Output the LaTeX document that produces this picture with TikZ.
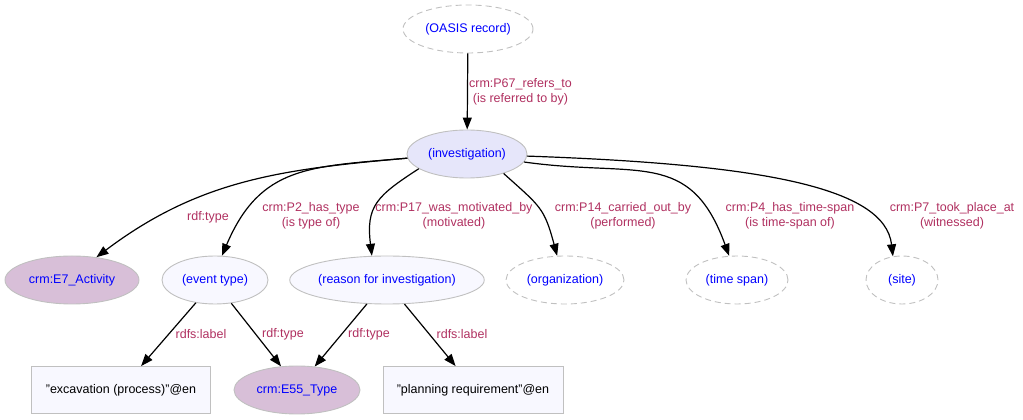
\documentclass[tikz,border=0pt]{standalone}
\usepackage{fontspec}
\setmainfont{Liberation Sans}
\usetikzlibrary{arrows.meta,shapes.geometric}

\definecolor{lblred}{HTML}{B03060}
\definecolor{bordgray}{HTML}{C0C0C0}
\definecolor{lavender}{HTML}{E6E6FA}
\definecolor{ghost}{HTML}{F8F8FF}
\definecolor{thistle}{HTML}{D8BFD8}

\begin{document}
\begin{tikzpicture}[x=1pt,y=1pt,->,>={Triangle[length=12pt,width=9pt]},line width=1.2pt,
    font=\fontsize{12.5}{15}\selectfont,
    main node/.style={ellipse,draw=bordgray,line width=0.9pt,inner sep=0pt,minimum height=48pt,text=blue},
    open node/.style={main node,dash pattern=on 6pt off 4pt},
    class node/.style={main node,fill=thistle},
    lit node/.style={rectangle,draw=bordgray,line width=0.9pt,fill=ghost,minimum width=179pt,minimum height=47pt,inner sep=0pt},
    lbl/.style={text=lblred,align=center,inner sep=1pt}]

    \useasboundingbox (0,0) rectangle (1023,420);

    % nodes
    \node[open node, minimum width=130pt] (oasis) at (468,391) {(OASIS record)};
    \node[main node, fill=lavender, minimum width=120pt] (inv) at (467,266) {(investigation)};

    \node[class node, minimum width=134pt] (e7) at (72,140) {crm:E7\_Activity};
    \node[main node, fill=ghost, minimum width=106pt] (evt) at (215,140) {(event type)};
    \node[main node, fill=ghost, minimum width=192pt] (reason) at (387,140) {(reason for investigation)};
    \node[open node, minimum width=118pt] (org) at (565,140) {(organization)};
    \node[open node, minimum width=102pt] (tspan) at (737,140) {(time span)};
    \node[open node, minimum width=72pt] (site) at (902,140) {(site)};

    \node[lit node] (exc) at (121,30) {"excavation (process)"@en};
    \node[class node, minimum width=126pt] (e55) at (297,30) {crm:E55\_Type};
    \node[lit node, minimum width=180pt] (plan) at (473,30) {"planning requirement"@en};

    % edges
    \draw (oasis) -- node[lbl,right] {crm:P67\_refers\_to\\(is referred to by)} (inv);

    \draw (inv.184) to[out=185,in=37] (e7.43);
    \draw (inv.184) to[out=185,in=67,looseness=1.2] (evt.74);
    \draw (inv.197) to[out=213,in=97,looseness=1.3] (reason.122);
    \draw (inv.332) to[out=318,in=105,looseness=1.3] (org.108);
    \draw (inv.352) to[out=-8,in=110,looseness=1.3] (tspan.108);
    \draw (inv.358) .. controls +(230,-8) and +(-8,70) .. (site.111);

    \draw (evt.230) -- (exc.50);
    \draw (evt.305) -- (e55.124);
    \draw (reason.230) -- (e55.53);
    \draw (reason.306) -- (plan.126);

    % edge labels
    \node[lbl] (l1) at (208,203) {rdf:type};
    \node[lbl] (l2) at (311,204) {crm:P2\_has\_type\\(is type of)};
    \node[lbl] (l3) at (454,204) {crm:P17\_was\_motivated\_by\\(motivated)};
    \node[lbl] (l4) at (623,204) {crm:P14\_carried\_out\_by\\(performed)};
    \node[lbl] (l5) at (790,204) {crm:P4\_has\_time-span\\(is time-span of)};
    \node[lbl] (l6) at (952,204) {crm:P7\_took\_place\_at\\(witnessed)};

    \node[lbl] (l7) at (201,86) {rdfs:label};
    \node[lbl] (l8) at (283,86) {rdf:type};
    \node[lbl] (l9) at (369,86) {rdf:type};
    \node[lbl] (l10) at (462,86) {rdfs:label};
\end{tikzpicture}
\end{document}
